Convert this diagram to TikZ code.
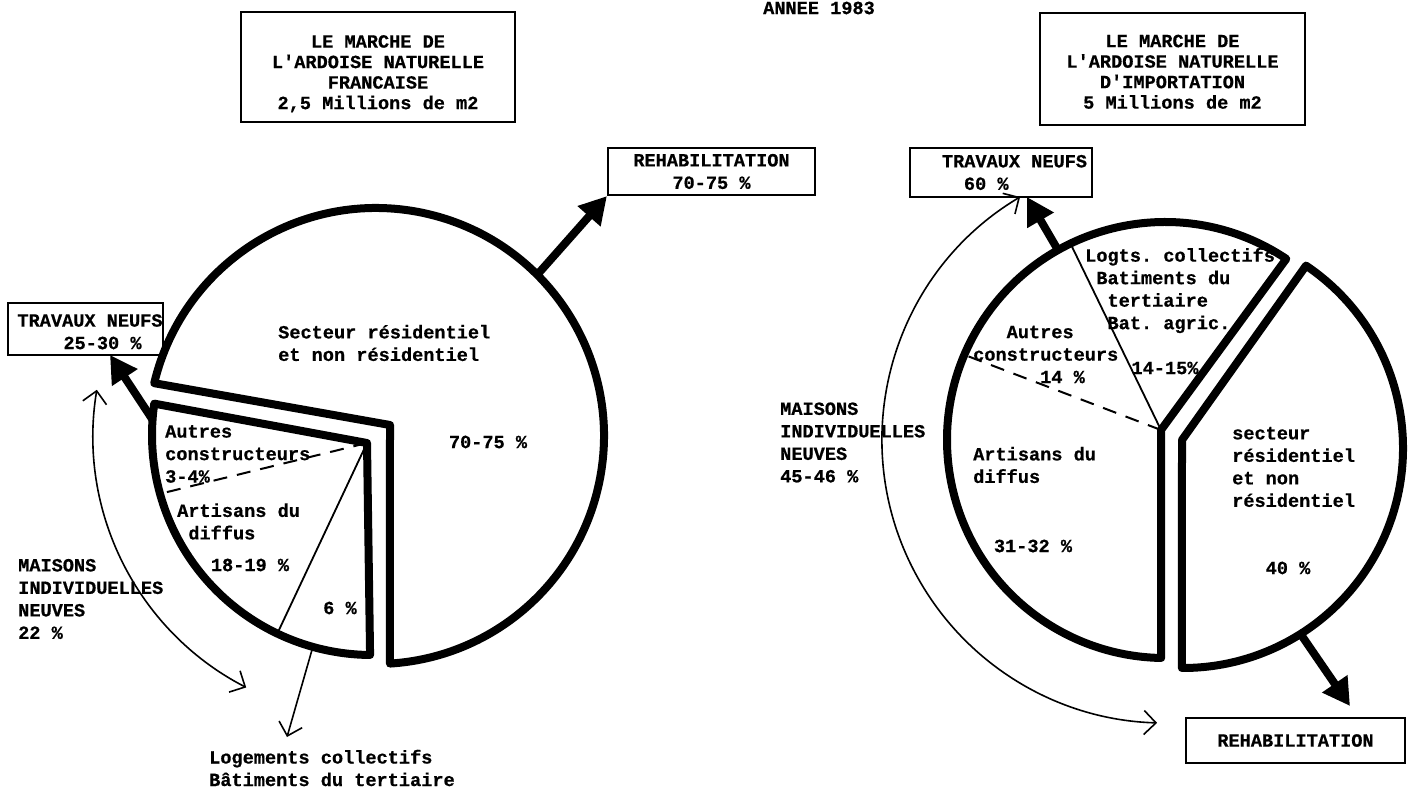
\documentclass[tikz,border=0pt]{standalone}
\usepackage{fontspec}
\setmonofont{Liberation Mono}[BoldFeatures={FakeBold=0.6}]
\usetikzlibrary{arrows.meta}

\tikzset{
  typed/.style={font=\ttfamily\bfseries\fontsize{18.6}{22.5}\selectfont},
  lbl/.style={typed, inner sep=0pt, align=left},
  framed/.style={typed, draw, line width=2.2pt, inner sep=0pt, align=center},
  titled/.style={framed, font=\ttfamily\bfseries\fontsize{18.6}{20.5}\selectfont},
  slice/.style={line width=8pt, line join=round},
  cutline/.style={line width=1.8pt},
  cutdash/.style={line width=2pt, dash pattern=on 14pt off 10pt},
  bigarrow/.style={line width=8pt, -{Triangle[length=27pt, width=29pt]}},
  slim/.style={line width=1.6pt, -{Straight Barb[length=12pt, width=24pt]}},
  spanarrow/.style={line width=1.6pt, {Straight Barb[length=12pt, width=24pt]}-{Straight Barb[length=12pt, width=24pt]}}
}

\begin{document}
\begin{tikzpicture}[x=1pt, y=-1pt]
  \useasboundingbox (0,0) rectangle (1416,792);

  % titles and boxes
  \node[lbl] (year) at (819,8) {ANNEE 1983};
  \node[titled, minimum width=274pt, minimum height=110pt] (titL) at (378,67)
    {\rule{0pt}{26pt}LE MARCHE DE\\L'ARDOISE NATURELLE\\FRANCAISE\\2,5 Millions de m2};
  \node[titled, minimum width=265pt, minimum height=112pt] (titR) at (1172.5,69)
    {\rule{0pt}{18pt}LE MARCHE DE\\L'ARDOISE NATURELLE\\D'IMPORTATION\\5 Millions de m2};
  \node[framed, align=left, minimum width=155pt, minimum height=52pt] (trvL) at (85.5,329)
    {\rule{0pt}{18pt}\hspace*{9pt}TRAVAUX NEUFS\\\hspace*{55pt}25-30 \%};
  \node[framed, minimum width=207pt, minimum height=47pt] (rehL) at (711.5,171.5)
    {REHABILITATION\\70-75 \%};
  \node[framed, align=left, minimum width=182pt, minimum height=49pt] (trvR) at (1001,172.5)
    {\hspace*{27pt}TRAVAUX NEUFS\\\hspace*{49pt}60 \%};
  \node[framed, minimum width=219pt, minimum height=45pt] (rehR) at (1295.5,740.5)
    {REHABILITATION};

  % left pie
  \coordinate (CL) at (376,436);
  \coordinate (CLs) at (372,435);
  \draw[slice] ([shift={(-166.6:228)}]CL) arc[start angle=-166.6, end angle=86.5, radius=228]
    -- (390,425) -- cycle;
  \draw[slice] ([shift={(-171.8:220)}]CLs) arc[start angle=-171.8, end angle=-269.5, radius=220]
    -- (367,443) coordinate (kL) -- cycle;
  \coordinate (dashL) at ([shift={(-195.5:220)}]CLs);
  \coordinate (cutL) at ([shift={(-244.5:220)}]CLs);
  \draw[cutdash] (kL) -- (dashL);
  \draw[cutline] (kL) -- (cutL);

  \node[lbl, anchor=west] (secL) at (278,343) {Secteur résidentiel\\et non résidentiel};
  \node[lbl] (pctL) at (488,442) {70-75 \%};
  \node[lbl, anchor=west] (autL) at (165,454) {Autres\\constructeurs\\3-4\%};
  \node[lbl, anchor=west] (artL) at (177,521.5) {Artisans du\\~diffus};
  \node[lbl] (arpL) at (250,565) {18-19 \%};
  \node[lbl] (colL) at (340,608) {6 \%};
  \node[lbl, anchor=west] (maiL) at (18,599) {MAISONS\\INDIVIDUELLES\\NEUVES\\22 \%};
  \node[lbl, anchor=west] (logL) at (209,768) {Logements collectifs\\Bâtiments du tertiaire};

  \coordinate (rehLfrom) at ([shift={(-45:228)}]CL);
  \coordinate (trvLfrom) at ([shift={(-176:220)}]CLs);
  \coordinate (trvLtip) at (110,355);
  \coordinate (logLfrom) at ([shift={(-254.4:220)}]CLs);
  \coordinate (logLtip) at (287,737);
  \coordinate (maiLtop) at ([shift={(-170.6:283)}]CL);
  \draw[bigarrow] (rehLfrom) -- (rehL.south west);
  \draw[bigarrow] (trvLfrom) -- (trvLtip);
  \draw[slim] (logLfrom) -- (logLtip);
  \draw[spanarrow] (maiLtop) arc[start angle=-170.6, end angle=-242.7, radius=283];

  % right pie
  \coordinate (CR) at (1165,440);
  \coordinate (CRr) at (1183,448);
  \draw[slice] ([shift={(-56.2:218)}]CR) arc[start angle=-56.2, end angle=-269, radius=218]
    -- (1161,430) coordinate (kR) -- cycle;
  \draw[slice] ([shift={(-56:220)}]CRr) arc[start angle=-56, end angle=90.3, radius=220]
    -- (1182,440) -- cycle;
  \coordinate (dashR) at ([shift={(-157:218)}]CR);
  \coordinate (cutR) at ([shift={(-115.7:218)}]CR);
  \draw[cutdash] (kR) -- (dashR);
  \draw[cutline] (kR) -- (cutR);

  \node[lbl, anchor=west] (colR) at (1085,290.5)
    {Logts. collectifs\\~Batiments du\\~~tertiaire\\~~Bat. agric.};
  \node[lbl] (cpR) at (1165,368) {14-15\%};
  \node[lbl, anchor=west] (autR) at (973,354.5) {~~~Autres\\constructeurs\\~~~~~~14 \%};
  \node[lbl, anchor=west] (artR) at (973,465) {Artisans du\\diffus};
  \node[lbl] (arpR) at (1033,546) {31-32 \%};
  \node[lbl, anchor=west] (maiR) at (780,442.5) {MAISONS\\INDIVIDUELLES\\NEUVES\\45-46 \%};
  \node[lbl, anchor=west] (secR) at (1232,467) {secteur\\résidentiel\\et non\\résidentiel};
  \node[lbl] (pcR) at (1288,568) {40 \%};

  \coordinate (trvRfrom) at ([shift={(-119.4:218)}]CR);
  \coordinate (trvRtip) at (1027,197);
  \coordinate (rehRfrom) at ([shift={(57.7:220)}]CRr);
  \coordinate (rehRtip) at (1350,706);
  \coordinate (maiRtop) at ([shift={(-120.8:283)}]CR);
  \draw[bigarrow] (trvRfrom) -- (trvRtip);
  \draw[bigarrow] (rehRfrom) -- (rehRtip);
  \draw[spanarrow] (maiRtop) arc[start angle=-120.8, end angle=-268.4, radius=283];
\end{tikzpicture}
\end{document}
